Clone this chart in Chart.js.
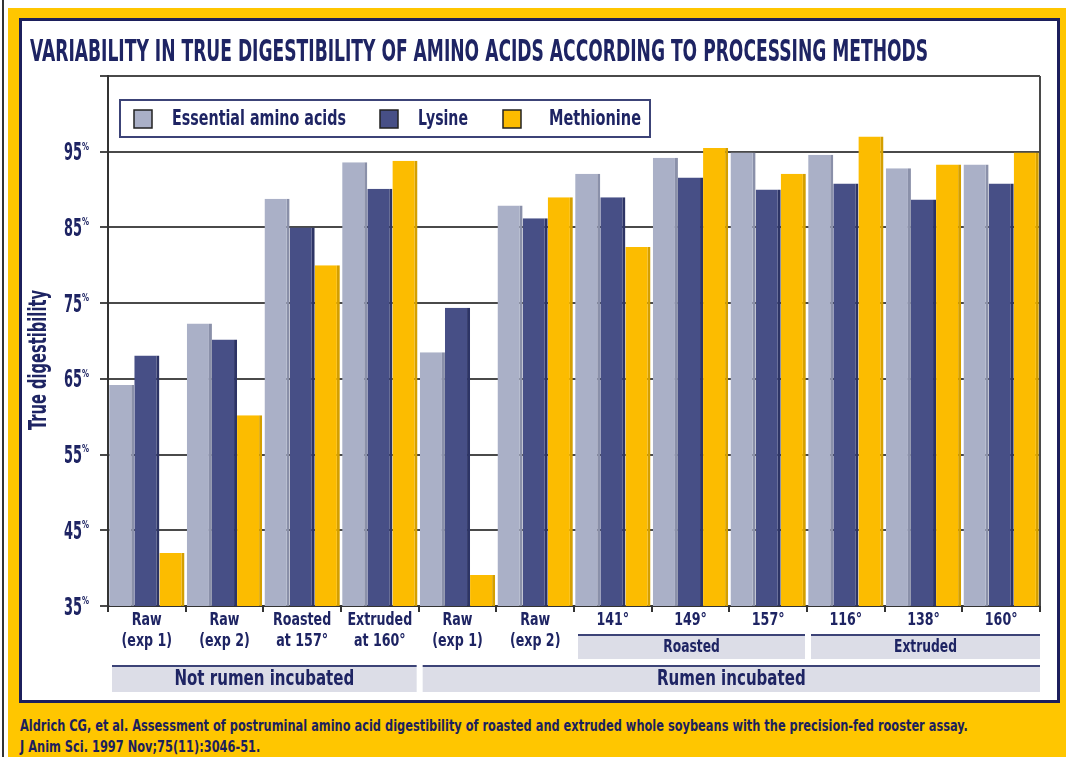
<!DOCTYPE html>
<html>
<head>
<meta charset="utf-8">
<script src="https://cdn.jsdelivr.net/npm/chart.js@4.4.1/dist/chart.umd.min.js"></script>
<style>
    body { margin: 0; width: 1066px; height: 757px; overflow: hidden; background: #fff; position: relative;
           font-family: 'Liberation Sans Narrow', 'DejaVu Sans Condensed', sans-serif; }
    #edge { position: absolute; left: 2px; top: 0; width: 2px; height: 757px; background: #333; }
    #frame { position: absolute; left: 8px; top: 8px; width: 1058px; height: 749px; background: #ffc600; }
    #panel { position: absolute; left: 19px; top: 18px; width: 1035px; height: 679px;
             border: 3px solid #1c1f5c; background: #fff; }
    #title { position: absolute; left: 30px; top: 36px; font-size: 30px; line-height: 30px; font-weight: bold;
             color: #1e2463; white-space: nowrap; transform-origin: 0 0; }
    .foot { position: absolute; left: 20px; font-size: 15px; line-height: 15px; font-weight: bold;
            color: #1c1f5c; white-space: nowrap; transform-origin: 0 0; }
    canvas { position: absolute; left: 0; top: 0; }
</style>
</head>
<body>
<div id="edge"></div>
<div id="frame"></div>
<div id="panel"><canvas id="chart" width="1035" height="679"></canvas></div>
<div id="title">VARIABILITY IN TRUE DIGESTIBILITY OF AMINO ACIDS ACCORDING TO PROCESSING METHODS</div>
<div class="foot" id="foot1" style="top:719px">Aldrich CG, et al. Assessment of postruminal amino acid digestibility of roasted and extruded whole soybeans with the precision-fed rooster assay.</div>
<div class="foot" id="foot2" style="top:740px">J Anim Sci. 1997 Nov;75(11):3046-51.</div>
<script>
// Data
const categories = [
    ['Raw', '(exp 1)'], ['Raw', '(exp 2)'], ['Roasted', 'at 157°'], ['Extruded', 'at 160°'],
    ['Raw', '(exp 1)'], ['Raw', '(exp 2)'], ['141°'], ['149°'], ['157°'], ['116°'], ['138°'], ['160°']
];
const essentialAmino = [64.2, 72.3, 88.8, 93.6, 68.5, 87.9, 92.1, 94.2, 94.9, 94.6, 92.8, 93.3];
const lysine = [68.1, 70.2, 85.0, 90.1, 74.4, 86.2, 89.0, 91.6, 90.0, 90.8, 88.7, 90.8];
const methionine = [42.0, 60.2, 80.0, 93.8, 39.1, 89.0, 82.4, 95.5, 92.1, 97.0, 93.3, 94.9];
const seriesNames = ['Essential amino acids', 'Lysine', 'Methionine'];
const yTicks = [35, 45, 55, 65, 75, 85, 95];

// Grouping bands under the axis: [label, first index, last index]
const subGroups = [['Roasted', 6, 8], ['Extruded', 9, 11]];
const mainGroups = [['Not rumen incubated', 0, 3], ['Rumen incubated', 4, 11]];

const NAVY = '#1e2463';
const FONT = "'Liberation Sans Narrow', 'DejaVu Sans Condensed', sans-serif";
const fills = ['#aab0c7', '#474f86', '#fcbc00'];
const sides = ['#8a90a9', '#2d3465', '#d49f00'];

// squeeze the html texts to the widths seen in the picture
function fitWidth(id, target) {
    const el = document.getElementById(id);
    const k = target / el.offsetWidth;
    el.style.transform = `scaleX(${k})`;
    return k;
}
fitWidth('title', 898);
const k = fitWidth('foot1', 948);
document.getElementById('foot2').style.transform = `scaleX(${k})`;

// draw text squeezed horizontally
function narrowText(ctx, text, cx, cy, squeeze) {
    ctx.save();
    ctx.translate(cx, cy);
    ctx.scale(squeeze, 1);
    ctx.fillText(text, 0, 0);
    ctx.restore();
}

// Legend, axis labels, axis title and group bands
const decorPlugin = {
    id: 'decor',
    afterDraw(chart) {
        const ctx = chart.ctx;
        const ca = chart.chartArea;
        const x = chart.scales.x;
        const y = chart.scales.y;
        ctx.save();

        // right border of the plot box
        ctx.strokeStyle = '#4a4a4a';
        ctx.lineWidth = 2;
        ctx.beginPath();
        ctx.moveTo(ca.right, ca.top);
        ctx.lineTo(ca.right, ca.bottom);
        ctx.stroke();

        // legend box
        const lx = ca.left + 12, ly = ca.top + 24;
        ctx.fillStyle = '#fff';
        ctx.fillRect(lx, ly, 530, 37);
        ctx.strokeStyle = '#3c4377';
        ctx.lineWidth = 2;
        ctx.strokeRect(lx, ly, 530, 37);
        const swatchX = [14, 260, 383];
        const textX = [52, 298, 429];
        const textW = [174, 50, 92];
        ctx.font = `bold 22px ${FONT}`;
        ctx.textBaseline = 'middle';
        ctx.textAlign = 'left';
        seriesNames.forEach((name, i) => {
            ctx.fillStyle = fills[i];
            ctx.fillRect(lx + swatchX[i], ly + 10, 18, 18);
            ctx.strokeStyle = '#222';
            ctx.lineWidth = 1.5;
            ctx.strokeRect(lx + swatchX[i], ly + 10, 18, 18);
            ctx.fillStyle = NAVY;
            ctx.fillText(name, lx + textX[i], ly + 19, textW[i]);
        });

        // y tick labels with small percent sign
        yTicks.forEach(v => {
            const py = y.getPixelForValue(v);
            ctx.fillStyle = NAVY;
            ctx.textAlign = 'right';
            ctx.textBaseline = 'middle';
            ctx.font = `bold 25px ${FONT}`;
            ctx.fillText(String(v), ca.left - 26, py + 2, 18);
            ctx.textAlign = 'left';
            ctx.font = `bold 11px ${FONT}`;
            ctx.fillText('%', ca.left - 26, py - 5, 7);
        });

        // x tick labels
        ctx.fillStyle = NAVY;
        ctx.textAlign = 'center';
        ctx.textBaseline = 'middle';
        ctx.font = `bold 18px ${FONT}`;
        categories.forEach((lines, i) => {
            const px = x.getPixelForValue(i);
            lines.forEach((t, j) => narrowText(ctx, t, px, ca.bottom + 14 + j * 21, 0.78));
        });

        // y axis title
        ctx.save();
        ctx.translate(18, 339);
        ctx.rotate(-Math.PI / 2);
        ctx.textAlign = 'center';
        ctx.textBaseline = 'middle';
        ctx.font = `bold 24px ${FONT}`;
        ctx.fillStyle = NAVY;
        ctx.fillText('True digestibility', 0, 0, 140);
        ctx.restore();

        // group bands
        const half = (x.getPixelForValue(1) - x.getPixelForValue(0)) / 2;
        const band = (groups, top, h, size) => {
            groups.forEach(([label, a, b]) => {
                let x0 = x.getPixelForValue(a) - half + 4;
                let x1 = x.getPixelForValue(b) + half - 2;
                if (b === categories.length - 1) x1 = ca.right;
                ctx.fillStyle = '#dcdde7';
                ctx.fillRect(x0, top + 2, x1 - x0, h);
                ctx.fillStyle = '#3c4377';
                ctx.fillRect(x0, top, x1 - x0, 2);
                ctx.fillStyle = NAVY;
                ctx.font = `bold ${size}px ${FONT}`;
                ctx.textAlign = 'center';
                ctx.textBaseline = 'middle';
                narrowText(ctx, label, (x0 + x1) / 2, top + 2 + h / 2, 0.76);
            });
        };
        band(subGroups, ca.bottom + 28, 23, 18);
        band(mainGroups, ca.bottom + 59, 25, 22);
        ctx.restore();
    }
};

const ctx = document.getElementById('chart').getContext('2d');
const chart = new Chart(ctx, {
    type: 'bar',
    data: {
        labels: categories,
        datasets: [essentialAmino, lysine, methionine].map((data, i) => ({
            label: seriesNames[i],
            data: data,
            backgroundColor: fills[i],
            borderColor: sides[i],
            borderWidth: { top: 0, right: 3, bottom: 0, left: 0 },
            borderSkipped: false,
            categoryPercentage: 0.97,
            barPercentage: 1.0
        }))
    },
    options: {
        responsive: false,
        animation: false,
        layout: { padding: { top: 55, right: 17, left: 0, bottom: 0 } },
        plugins: {
            legend: { display: false },
            tooltip: { enabled: false }
        },
        scales: {
            x: {
                afterFit: s => { s.height = 94; },
                grid: { drawOnChartArea: false, offset: true, tickLength: 6, color: '#333', lineWidth: 2 },
                border: { color: '#333', width: 2 },
                ticks: { display: false }
            },
            y: {
                min: 35,
                max: 105,
                afterFit: s => { s.width = 86; },
                grid: { color: '#4a4a4a', lineWidth: 2, tickLength: 8 },
                border: { color: '#333', width: 2 },
                ticks: { stepSize: 10, display: false }
            }
        }
    },
    plugins: [decorPlugin]
});
</script>
</body>
</html>
